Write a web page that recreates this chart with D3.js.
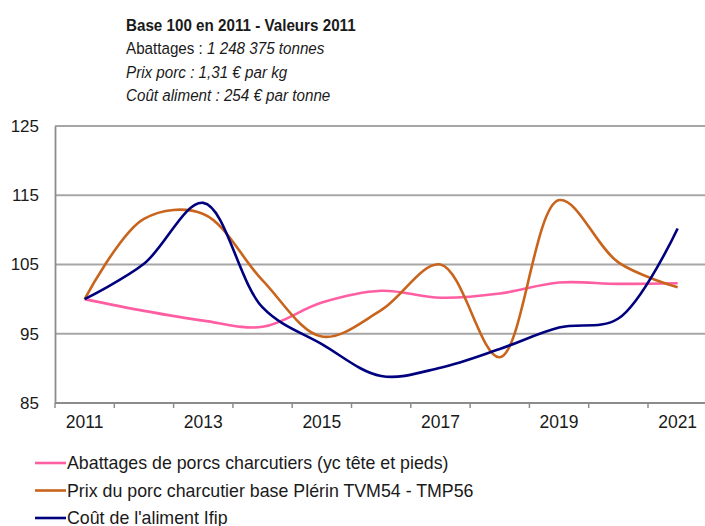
<!DOCTYPE html>
<html>
<head>
<meta charset="utf-8">
<script src="https://cdn.jsdelivr.net/npm/d3@7"></script>
<style>
  body { margin: 0; background: #fff; }
  svg { display: block; font-family: "Liberation Sans", Arial, sans-serif; }
</style>
</head>
<body>
<script>
var width = 705,
    height = 526;

var years = [2011, 2012, 2013, 2014, 2015, 2016, 2017, 2018, 2019, 2020, 2021];
var yTicks = [85, 95, 105, 115, 125];

var abattages = [100, 98.3, 96.9, 96.0, 99.5, 101.2, 100.2, 100.8, 102.4, 102.2, 102.3];
var prixPorc  = [100, 111.6, 112.3, 102.7, 94.6, 98.4, 105.0, 91.6, 114.3, 105.3, 101.7];
var coutAliment = [100, 105.1, 113.9, 98.8, 93.5, 88.9, 90.1, 92.8, 95.9, 97.2, 110.2];

var seriesNames = [
    'Abattages de porcs charcutiers (yc tête et pieds)',
    'Prix du porc charcutier base Plérin TVM54 - TMP56',
    "Coût de l'aliment Ifip"
];
var seriesColors = ['#ff5fa2', '#c8641c', '#00007f'];

var titleLines = [
    'Base 100 en 2011 - Valeurs 2011',
    'Abattages : 1 248 375 tonnes',
    'Prix porc : 1,31 € par kg',
    'Coût aliment : 254 € par tonne'
];

var series = [abattages, prixPorc, coutAliment].map(function(v, i) {
    return {
        name: seriesNames[i],
        color: seriesColors[i],
        values: v.map(function(d, j) { return {year: years[j], value: d}; })
    };
});

var plotLeft = 55, plotTop = 126, plotBottom = 403, bandW = 59.3;

var x = d3.scaleBand()
    .domain(years)
    .range([plotLeft, plotLeft + bandW * years.length]);

var y = d3.scaleLinear()
    .domain([85, 125])
    .range([plotBottom, plotTop]);

var svg = d3.select('body').append('svg')
    .attr('width', width)
    .attr('height', height);

// titre (police un peu étroite comme dans l'original)
var title = svg.append('g').attr('transform', 'translate(126,0)scale(0.91,1)');
title.selectAll('text')
    .data(titleLines)
    .enter().append('text')
    .attr('x', 0)
    .attr('y', function(d, i) { return 31 + i * 23.5; })
    .attr('font-size', 16.7)
    .attr('font-weight', function(d, i) { return i === 0 ? 'bold' : 'normal'; })
    .attr('fill', '#1a1a1a')
    .each(function(d, i) {
        var t = d3.select(this);
        if (i === 0) { t.text(d); return; }
        var k = d.indexOf(':');
        t.append('tspan').attr('font-style', i === 1 ? 'normal' : 'italic').text(d.slice(0, k + 1));
        t.append('tspan').attr('font-style', 'italic').text(d.slice(k + 1));
    });

// grille
svg.append('g')
    .selectAll('line')
    .data(yTicks.slice(1))
    .enter().append('line')
    .attr('x1', plotLeft)
    .attr('x2', width)
    .attr('y1', function(d) { return y(d); })
    .attr('y2', function(d) { return y(d); })
    .attr('stroke', '#a6a6a6')
    .attr('stroke-width', 1.8);

// axe Y
var yAxis = svg.append('g')
    .attr('transform', 'translate(' + plotLeft + ',0)')
    .call(d3.axisLeft(y).tickValues(yTicks).tickSize(0).tickPadding(16));
yAxis.select('.domain').attr('stroke', '#8c8c8c').attr('stroke-width', 1.8);
yAxis.selectAll('text')
    .attr('font-size', 17)
    .attr('fill', '#1a1a1a')
    .attr('font-family', '"Liberation Sans", Arial, sans-serif');

// axe X
var xAxis = svg.append('g').attr('transform', 'translate(0,' + plotBottom + ')');
xAxis.append('line')
    .attr('x1', plotLeft).attr('x2', width)
    .attr('stroke', '#8c8c8c').attr('stroke-width', 1.8);
xAxis.selectAll('.tick')
    .data(years)
    .enter().append('line')
    .attr('x1', function(d) { return x(d); })
    .attr('x2', function(d) { return x(d); })
    .attr('y1', 0).attr('y2', 5)
    .attr('stroke', '#8c8c8c').attr('stroke-width', 1.5);
xAxis.selectAll('text')
    .data(years.filter(function(d) { return d % 2 === 1; }))
    .enter().append('text')
    .attr('x', function(d) { return x(d) + x.bandwidth() / 2; })
    .attr('y', 25)
    .attr('text-anchor', 'middle')
    .attr('font-size', 17.5)
    .attr('fill', '#1a1a1a')
    .text(function(d) { return d; });

// courbes
var line = d3.line()
    .x(function(d) { return x(d.year) + x.bandwidth() / 2; })
    .y(function(d) { return y(d.value); })
    .curve(d3.curveCatmullRom.alpha(0.5));

svg.append('g')
    .selectAll('path')
    .data(series)
    .enter().append('path')
    .attr('d', function(d) { return line(d.values); })
    .attr('fill', 'none')
    .attr('stroke', function(d) { return d.color; })
    .attr('stroke-width', 2.6)
    .attr('stroke-linejoin', 'round');

// légende
var legend = svg.append('g')
    .selectAll('g')
    .data(series)
    .enter().append('g')
    .attr('transform', function(d, i) { return 'translate(35,' + (463 + i * 27.5) + ')'; });
legend.append('line')
    .attr('x1', 0).attr('x2', 31)
    .attr('stroke', function(d) { return d.color; })
    .attr('stroke-width', 2.6);
legend.append('text')
    .attr('x', 32)
    .attr('y', 6)
    .attr('font-size', 17.8)
    .attr('fill', '#1a1a1a')
    .text(function(d) { return d.name; });
</script>
</body>
</html>
